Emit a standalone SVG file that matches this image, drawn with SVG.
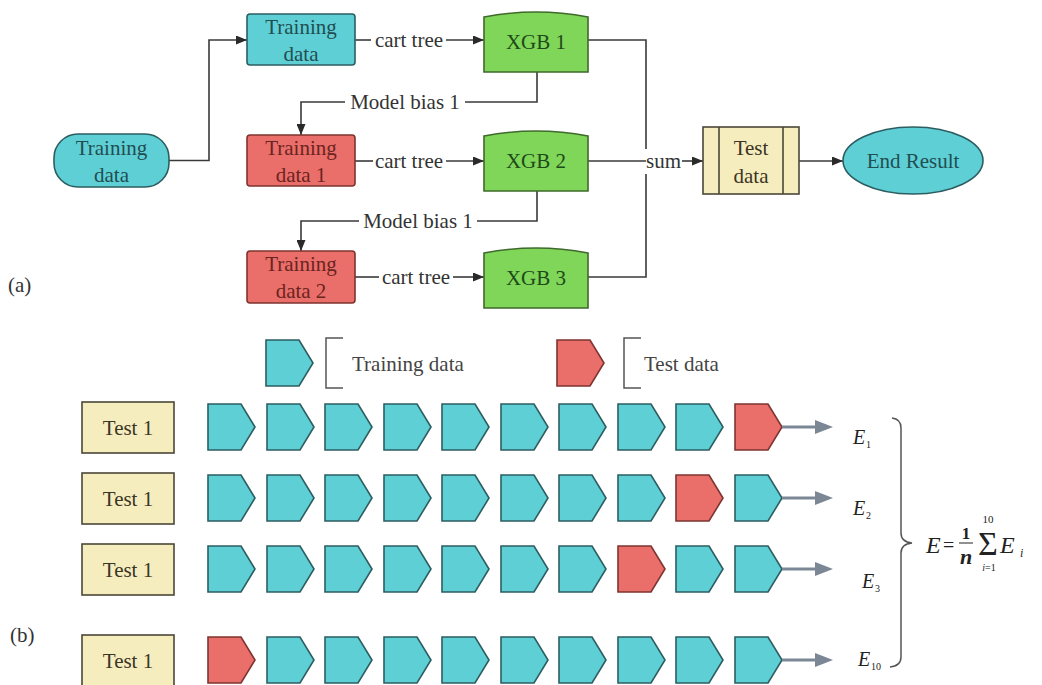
<svg xmlns="http://www.w3.org/2000/svg" width="1042" height="685" viewBox="0 0 1042 685" font-family="'Liberation Serif', Tinos, 'Times New Roman', 'DejaVu Serif', serif">
<style>
text{font-family:'Liberation Serif',Tinos,'Times New Roman','DejaVu Serif',serif;font-size:21px;}
.c{text-anchor:middle;}
.cy{fill:#5FCFD6;stroke:#2C5E61;stroke-width:1.6;}
.rd{fill:#EA6E69;stroke:#7E3431;stroke-width:1.6;}
.gr{fill:#80D658;stroke:#3F6A2C;stroke-width:1.6;}
.yl{fill:#F6EDBF;stroke:#4B4737;stroke-width:1.6;}
.tcy{fill:#1F4E51;}
.trd{fill:#6A2421;}
.tgr{fill:#1E4A19;}
.tyl{fill:#3B3525;}
.lbl{fill:#333;}
.ln{fill:none;stroke:#3A3A3A;stroke-width:1.6;}
.gl{fill:none;stroke:#7B8795;stroke-width:3;}
.ga{fill:#7B8795;}
.br{fill:none;stroke:#555;stroke-width:1.5;}
.it{font-style:italic;fill:#222;}
.m{fill:#222;}
</style>
<defs>
<marker id="ah" markerUnits="userSpaceOnUse" markerWidth="11" markerHeight="9" refX="11" refY="4.5" orient="auto">
<path d="M0,0L11,4.5L0,9Z" fill="#2A2A2A"/>
</marker>
<path id="pent" d="M0,0H33L47,23L33,46H0Z"/>
</defs>

<!-- Part (a) -->
<text x="8" y="292" style="fill:#333">(a)</text>

<g id="connectors">
<path class="ln" d="M169,160.5H209V40H247" marker-end="url(#ah)"/>
<path class="ln" d="M355,40H371"/>
<path class="ln" d="M446,40H484" marker-end="url(#ah)"/>
<path class="ln" d="M355,161H373"/>
<path class="ln" d="M446,161H484" marker-end="url(#ah)"/>
<path class="ln" d="M355,277H379"/>
<path class="ln" d="M453,277H484" marker-end="url(#ah)"/>
<path class="ln" d="M537,72V102H465"/>
<path class="ln" d="M345,102H301V135" marker-end="url(#ah)"/>
<path class="ln" d="M537,191V221H477"/>
<path class="ln" d="M359,221H301V251" marker-end="url(#ah)"/>
<path class="ln" d="M588,40H646V149"/>
<path class="ln" d="M646,174V277H588"/>
<path class="ln" d="M588,161H646"/>
<path class="ln" d="M682,161H703" marker-end="url(#ah)"/>
<path class="ln" d="M799,161H843" marker-end="url(#ah)"/>
<text class="lbl c" x="409" y="47">cart tree</text>
<text class="lbl c" x="409" y="168">cart tree</text>
<text class="lbl c" x="416" y="284">cart tree</text>
<text class="lbl c" x="405" y="109">Model bias 1</text>
<text class="lbl c" x="418" y="228">Model bias 1</text>
<text class="lbl" x="646" y="168">sum</text>
</g>

<g id="start">
<rect class="cy" x="54" y="134" width="115" height="53" rx="24"/>
<text class="tcy c" x="111.5" y="155">Training</text>
<text class="tcy c" x="111.5" y="182">data</text>
</g>
<g id="train0">
<rect class="cy" x="247" y="14" width="108" height="51" rx="3"/>
<text class="tcy c" x="301" y="34">Training</text>
<text class="tcy c" x="301" y="61">data</text>
</g>
<g id="train1">
<rect class="rd" x="247" y="135" width="108" height="51" rx="3"/>
<text class="trd c" x="301" y="155">Training</text>
<text class="trd c" x="301" y="182">data 1</text>
</g>
<g id="train2">
<rect class="rd" x="247" y="251" width="108" height="52" rx="3"/>
<text class="trd c" x="301" y="271">Training</text>
<text class="trd c" x="301" y="298">data 2</text>
</g>
<g id="xgb1">
<path class="gr" d="M484,17Q536,7 588,17V72H484Z"/>
<text class="tgr c" x="536" y="49">XGB 1</text>
</g>
<g id="xgb2">
<path class="gr" d="M484,136Q536,126 588,136V191H484Z"/>
<text class="tgr c" x="536" y="168">XGB 2</text>
</g>
<g id="xgb3">
<path class="gr" d="M484,253Q536,243 588,253V308H484Z"/>
<text class="tgr c" x="536" y="285">XGB 3</text>
</g>
<g id="testdata">
<rect class="yl" x="703" y="127" width="96" height="67"/>
<path class="ln" d="M719,127V194M783,127V194" style="stroke:#4B4737"/>
<text class="tyl c" x="751" y="155">Test</text>
<text class="tyl c" x="751" y="183">data</text>
</g>
<g id="endresult">
<ellipse class="cy" cx="913" cy="160.5" rx="70" ry="33.5"/>
<text class="tcy c" x="913" y="168">End Result</text>
</g>

<!-- Part (b) -->
<text x="10" y="642" style="fill:#333">(b)</text>

<g id="legend">
<use href="#pent" x="266" y="340" class="cy"/>
<path class="br" d="M343,338H326V388H343"/>
<text x="352" y="371" style="fill:#444">Training data</text>
<use href="#pent" x="557" y="340" class="rd"/>
<path class="br" d="M641,338H624V388H641"/>
<text x="644" y="371" style="fill:#444">Test data</text>
</g>

<g id="row1">
<rect class="yl" x="82" y="402" width="92" height="51"/>
<text class="tyl c" x="128" y="435">Test 1</text>
<use href="#pent" x="208" y="404" class="cy"/>
<use href="#pent" x="267" y="404" class="cy"/>
<use href="#pent" x="325" y="404" class="cy"/>
<use href="#pent" x="384" y="404" class="cy"/>
<use href="#pent" x="442" y="404" class="cy"/>
<use href="#pent" x="501" y="404" class="cy"/>
<use href="#pent" x="559" y="404" class="cy"/>
<use href="#pent" x="618" y="404" class="cy"/>
<use href="#pent" x="676" y="404" class="cy"/>
<use href="#pent" x="735" y="404" class="rd"/>
</g>
<g id="row2">
<rect class="yl" x="82" y="473" width="92" height="51"/>
<text class="tyl c" x="128" y="506">Test 1</text>
<use href="#pent" x="208" y="475" class="cy"/>
<use href="#pent" x="267" y="475" class="cy"/>
<use href="#pent" x="325" y="475" class="cy"/>
<use href="#pent" x="384" y="475" class="cy"/>
<use href="#pent" x="442" y="475" class="cy"/>
<use href="#pent" x="501" y="475" class="cy"/>
<use href="#pent" x="559" y="475" class="cy"/>
<use href="#pent" x="618" y="475" class="cy"/>
<use href="#pent" x="676" y="475" class="rd"/>
<use href="#pent" x="735" y="475" class="cy"/>
</g>
<g id="row3">
<rect class="yl" x="82" y="544" width="92" height="51"/>
<text class="tyl c" x="128" y="577">Test 1</text>
<use href="#pent" x="208" y="546" class="cy"/>
<use href="#pent" x="267" y="546" class="cy"/>
<use href="#pent" x="325" y="546" class="cy"/>
<use href="#pent" x="384" y="546" class="cy"/>
<use href="#pent" x="442" y="546" class="cy"/>
<use href="#pent" x="501" y="546" class="cy"/>
<use href="#pent" x="559" y="546" class="cy"/>
<use href="#pent" x="618" y="546" class="rd"/>
<use href="#pent" x="676" y="546" class="cy"/>
<use href="#pent" x="735" y="546" class="cy"/>
</g>
<g id="row4">
<rect class="yl" x="82" y="635" width="92" height="51"/>
<text class="tyl c" x="128" y="668">Test 1</text>
<use href="#pent" x="208" y="637" class="rd"/>
<use href="#pent" x="267" y="637" class="cy"/>
<use href="#pent" x="325" y="637" class="cy"/>
<use href="#pent" x="384" y="637" class="cy"/>
<use href="#pent" x="442" y="637" class="cy"/>
<use href="#pent" x="501" y="637" class="cy"/>
<use href="#pent" x="559" y="637" class="cy"/>
<use href="#pent" x="618" y="637" class="cy"/>
<use href="#pent" x="676" y="637" class="cy"/>
<use href="#pent" x="735" y="637" class="cy"/>
</g>

<g id="errarrows">
<path class="gl" d="M782,427H818M782,498H818M782,569H818M782,660H818"/>
<path class="ga" d="M815,420L833,427L815,434ZM815,491L833,498L815,505ZM815,562L833,569L815,576ZM815,653L833,660L815,667Z"/>
</g>

<g id="errors">
<text class="it" x="853" y="444" style="font-size:20px">E</text><text class="m" x="866" y="448" style="font-size:10px">1</text>
<text class="it" x="853" y="515" style="font-size:20px">E</text><text class="m" x="866" y="519" style="font-size:10px">2</text>
<text class="it" x="862" y="588" style="font-size:20px">E</text><text class="m" x="875" y="592" style="font-size:10px">3</text>
<text class="it" x="858" y="666" style="font-size:20px">E</text><text class="m" x="871" y="670" style="font-size:10px">10</text>
</g>

<g id="brace">
<path class="br" d="M892,418Q901,419 901,428V533Q901,542 912,543Q901,544 901,553V657Q901,666 890,667"/>
</g>

<g id="formula">
<text class="it" x="926" y="553" style="font-size:24px">E</text>
<text class="m" x="943" y="552" style="font-size:20px">=</text>
<text class="m c" x="966" y="539" style="font-size:17px;font-weight:bold">1</text>
<line x1="959" y1="543" x2="973" y2="543" stroke="#222" stroke-width="1"/>
<text class="it c" x="966" y="564" style="font-size:22px;font-weight:bold">n</text>
<text class="m c" x="988" y="555" style="font-size:34px">Σ</text>
<text class="m c" x="988" y="523" style="font-size:11px">10</text>
<text class="m c" x="989" y="571" style="font-size:10px"><tspan font-style="italic">i</tspan>=1</text>
<text class="it" x="1000" y="553" style="font-size:24px">E</text>
<text class="it" x="1020" y="557" style="font-size:12px">i</text>
</g>
</svg>
